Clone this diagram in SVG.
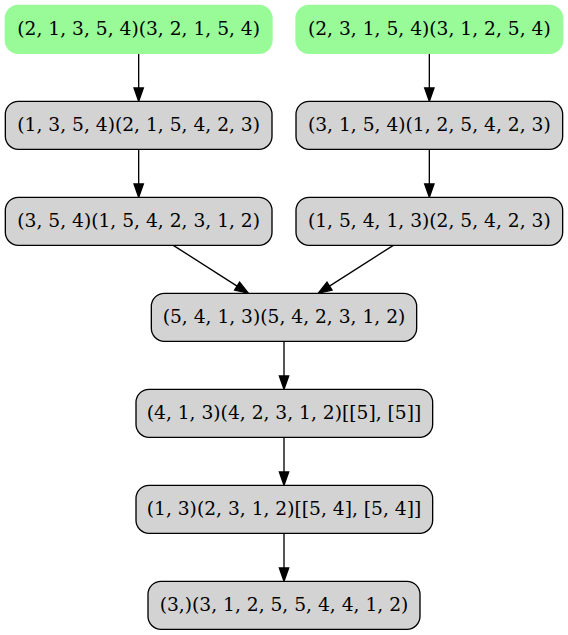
<svg xmlns="http://www.w3.org/2000/svg" width="568" height="635" viewBox="0 0 568 635">
  <style>
    .box { fill: #d3d3d3; stroke: #000000; stroke-width: 1.33; }
    .start { fill: #98fb98; stroke: #98fb98; stroke-width: 1.33; }
    .label { font-family: "DejaVu Serif", "Liberation Serif", serif; font-size: 18.67px; fill: #000000; text-anchor: middle; }
    .edge { stroke: #000000; stroke-width: 1.33; fill: none; marker-end: url(#arrow); }
  </style>
  <defs>
    <marker id="arrow" markerUnits="userSpaceOnUse" markerWidth="16" markerHeight="12" refX="0" refY="0" viewBox="0 -6 16 12" orient="auto" overflow="visible">
      <path d="M0,-4.67 L13.33,0 L0,4.67 Z" fill="#000000" stroke="#000000" stroke-width="1.33"/>
    </marker>
  </defs>
  <rect width="568" height="635" fill="#ffffff"/>

  <!-- connectors -->
  <g id="edges">
    <line class="edge" x1="138.67" y1="53.33" x2="138.67" y2="88"/>
    <line class="edge" x1="429.33" y1="53.33" x2="429.33" y2="88"/>
    <line class="edge" x1="138.67" y1="149.33" x2="138.67" y2="184"/>
    <line class="edge" x1="429.33" y1="149.33" x2="429.33" y2="184"/>
    <line class="edge" x1="173.3" y1="245.33" x2="237.1" y2="286.1"/>
    <line class="edge" x1="393.3" y1="245.33" x2="329.5" y2="286.1"/>
    <line class="edge" x1="284" y1="341.33" x2="284" y2="376"/>
    <line class="edge" x1="284" y1="437.33" x2="284" y2="472"/>
    <line class="edge" x1="284" y1="533.33" x2="284" y2="568"/>
  </g>

  <!-- nodes -->
  <g id="n1">
    <rect class="start" x="5.33" y="5.33" width="266.67" height="48" rx="13" ry="13"/>
    <text class="label" x="138.67" y="35">(2, 1, 3, 5, 4)(3, 2, 1, 5, 4)</text>
  </g>
  <g id="n2">
    <rect class="start" x="296" y="5.33" width="266.67" height="48" rx="13" ry="13"/>
    <text class="label" x="429.33" y="35">(2, 3, 1, 5, 4)(3, 1, 2, 5, 4)</text>
  </g>
  <g id="n3">
    <rect class="box" x="5.33" y="101.33" width="266.67" height="48" rx="13" ry="13"/>
    <text class="label" x="138.67" y="131">(1, 3, 5, 4)(2, 1, 5, 4, 2, 3)</text>
  </g>
  <g id="n4">
    <rect class="box" x="296" y="101.33" width="266.67" height="48" rx="13" ry="13"/>
    <text class="label" x="429.33" y="131">(3, 1, 5, 4)(1, 2, 5, 4, 2, 3)</text>
  </g>
  <g id="n5">
    <rect class="box" x="5.33" y="197.33" width="266.67" height="48" rx="13" ry="13"/>
    <text class="label" x="138.67" y="227">(3, 5, 4)(1, 5, 4, 2, 3, 1, 2)</text>
  </g>
  <g id="n6">
    <rect class="box" x="296" y="197.33" width="266.67" height="48" rx="13" ry="13"/>
    <text class="label" x="429.33" y="227">(1, 5, 4, 1, 3)(2, 5, 4, 2, 3)</text>
  </g>
  <g id="n7">
    <rect class="box" x="151.33" y="293.33" width="265.33" height="48" rx="13" ry="13"/>
    <text class="label" x="284" y="323">(5, 4, 1, 3)(5, 4, 2, 3, 1, 2)</text>
  </g>
  <g id="n8">
    <rect class="box" x="136" y="389.33" width="296.67" height="48" rx="13" ry="13"/>
    <text class="label" x="284" y="419">(4, 1, 3)(4, 2, 3, 1, 2)[[5], [5]]</text>
  </g>
  <g id="n9">
    <rect class="box" x="136" y="485.33" width="296.67" height="48" rx="13" ry="13"/>
    <text class="label" x="284" y="515">(1, 3)(2, 3, 1, 2)[[5, 4], [5, 4]]</text>
  </g>
  <g id="n10">
    <rect class="box" x="148" y="581.33" width="272" height="48" rx="13" ry="13"/>
    <text class="label" x="284" y="611">(3,)(3, 1, 2, 5, 5, 4, 4, 1, 2)</text>
  </g>
</svg>
